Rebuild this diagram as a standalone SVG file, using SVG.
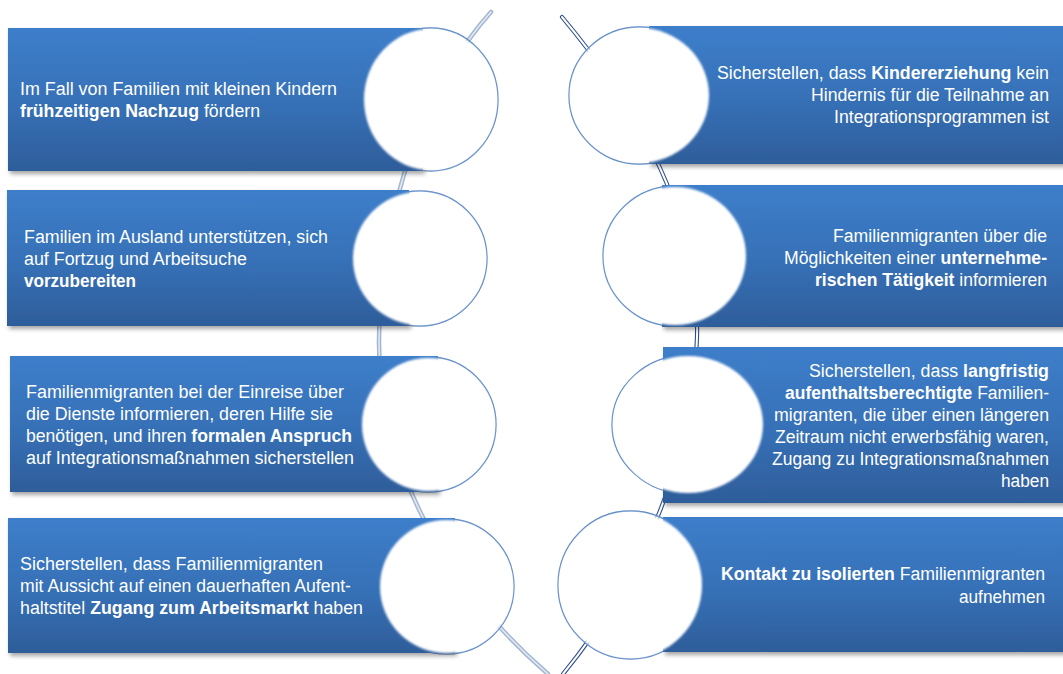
<svg xmlns="http://www.w3.org/2000/svg" width="1063" height="674" viewBox="0 0 1063 674">
<defs>
<linearGradient id="boxg" x1="0" y1="0" x2="0" y2="1">
<stop offset="0" stop-color="#3D7ECA"/>
<stop offset="0.55" stop-color="#3670B6"/>
<stop offset="1" stop-color="#2E5D9A"/>
</linearGradient>
<filter id="shadow" x="-5%" y="-10%" width="112%" height="125%">
<feDropShadow dx="2" dy="3" stdDeviation="2" flood-color="#000" flood-opacity="0.35"/>
</filter>
<filter id="soft" x="-5%" y="-5%" width="110%" height="110%">
<feGaussianBlur stdDeviation="0.8"/>
</filter>
</defs>
<style>
.box{fill:url(#boxg);filter:url(#shadow)}
.ring{fill:none;stroke:#4F7FC2;stroke-width:1.3}
.disc{fill:#fff;filter:url(#soft)}
.t{font-family:"Liberation Sans",Arial,sans-serif;font-size:18px;fill:#fff}
.b{font-weight:bold}
.arcL1{fill:none;stroke:#A3B6D1;stroke-width:4.5;stroke-linecap:round}
.arcL2{fill:none;stroke:#E2E9F2;stroke-width:1.6;stroke-linecap:round}
.arcR1{fill:none;stroke:#2F4E8C;stroke-width:4.2;stroke-linecap:round}
.arcR2{fill:none;stroke:#fff;stroke-width:2;stroke-linecap:round}
</style>
<g id="connectors">
<path class="arcL1" d="M491,12 C430,80 380,200 379,340 C378,460 440,580 548,674"/>
<path class="arcL2" d="M491,12 C430,80 380,200 379,340 C378,460 440,580 548,674"/>
<path class="arcR1" d="M562,17 C640,110 700,220 697,337 C694,460 640,580 563,674"/>
<path class="arcR2" d="M562,17 C640,110 700,220 697,337 C694,460 640,580 563,674"/>
</g>
<g id="node-l1">
<ellipse class="ring" cx="430.5" cy="99.5" rx="67.5" ry="71.5"/>
<rect class="box" x="8" y="28" width="415" height="143"/>
<ellipse class="disc" cx="430.5" cy="99.5" rx="66.5" ry="70.5"/>
<text class="t" x="20" y="95" textLength="317" lengthAdjust="spacingAndGlyphs">Im Fall von Familien mit kleinen Kindern</text>
<text class="t" x="20" y="117" textLength="240" lengthAdjust="spacingAndGlyphs"><tspan class="b">frühzeitigen Nachzug</tspan> fördern</text>
</g>
<g id="node-l2">
<ellipse class="ring" cx="419.5" cy="258.5" rx="67.5" ry="67.5"/>
<rect class="box" x="7" y="190" width="402" height="136"/>
<ellipse class="disc" cx="419.5" cy="258.5" rx="66.5" ry="66.5"/>
<text class="t" x="24" y="243" textLength="304" lengthAdjust="spacingAndGlyphs">Familien im Ausland unterstützen, sich</text>
<text class="t" x="24" y="265" textLength="223" lengthAdjust="spacingAndGlyphs">auf Fortzug und Arbeitsuche</text>
<text class="t b" x="24" y="287" textLength="112" lengthAdjust="spacingAndGlyphs">vorzubereiten</text>
</g>
<g id="node-l3">
<ellipse class="ring" cx="428.5" cy="424.5" rx="67.5" ry="67.5"/>
<rect class="box" x="10" y="356" width="428" height="136"/>
<ellipse class="disc" cx="428.5" cy="424.5" rx="66.5" ry="66.5"/>
<text class="t" x="26" y="398" textLength="318" lengthAdjust="spacingAndGlyphs">Familienmigranten bei der Einreise über</text>
<text class="t" x="26" y="420" textLength="307" lengthAdjust="spacingAndGlyphs">die Dienste informieren, deren Hilfe sie</text>
<text class="t" x="26" y="442" textLength="326" lengthAdjust="spacingAndGlyphs">benötigen, und ihren <tspan class="b">formalen Anspruch</tspan></text>
<text class="t" x="26" y="464" textLength="328" lengthAdjust="spacingAndGlyphs">auf Integrationsmaßnahmen sicherstellen</text>
</g>
<g id="node-l4">
<ellipse class="ring" cx="446.5" cy="586.5" rx="67.5" ry="67.5"/>
<rect class="box" x="8" y="518" width="447" height="135"/>
<ellipse class="disc" cx="446.5" cy="586.5" rx="66.5" ry="66.5"/>
<text class="t" x="20" y="570" textLength="303" lengthAdjust="spacingAndGlyphs">Sicherstellen, dass Familienmigranten</text>
<text class="t" x="20" y="592" textLength="331" lengthAdjust="spacingAndGlyphs">mit Aussicht auf einen dauerhaften Aufent-</text>
<text class="t" x="20" y="614" textLength="343" lengthAdjust="spacingAndGlyphs">haltstitel <tspan class="b">Zugang zum Arbeitsmarkt</tspan> haben</text>
</g>
<g id="node-r1">
<ellipse class="ring" cx="639.5" cy="95.5" rx="70.5" ry="68.5"/>
<rect class="box" x="649" y="26" width="420" height="138"/>
<ellipse class="disc" cx="639.5" cy="95.5" rx="69.5" ry="67.5"/>
<text class="t" x="717" y="79" textLength="332" lengthAdjust="spacingAndGlyphs">Sicherstellen, dass <tspan class="b">Kindererziehung</tspan> kein</text>
<text class="t" x="811" y="101" textLength="238" lengthAdjust="spacingAndGlyphs">Hindernis für die Teilnahme an</text>
<text class="t" x="834" y="123" textLength="215" lengthAdjust="spacingAndGlyphs">Integrationsprogrammen ist</text>
</g>
<g id="node-r2">
<ellipse class="ring" cx="675" cy="256" rx="72" ry="70"/>
<rect class="box" x="662" y="185" width="410" height="142"/>
<ellipse class="disc" cx="675" cy="256" rx="71" ry="69"/>
<text class="t" x="833" y="242" textLength="214" lengthAdjust="spacingAndGlyphs">Familienmigranten über die</text>
<text class="t" x="784" y="264" textLength="263" lengthAdjust="spacingAndGlyphs">Möglichkeiten einer <tspan class="b">unternehme-</tspan></text>
<text class="t" x="815" y="286" textLength="232" lengthAdjust="spacingAndGlyphs"><tspan class="b">rischen Tätigkeit</tspan> informieren</text>
</g>
<g id="node-r3">
<ellipse class="ring" cx="688" cy="424.5" rx="76" ry="69.5"/>
<rect class="box" x="663" y="347" width="410" height="156"/>
<ellipse class="disc" cx="688" cy="424.5" rx="75" ry="68.5"/>
<text class="t" x="809" y="377" textLength="240" lengthAdjust="spacingAndGlyphs">Sicherstellen, dass <tspan class="b">langfristig</tspan></text>
<text class="t" x="785" y="399" textLength="264" lengthAdjust="spacingAndGlyphs"><tspan class="b">aufenthaltsberechtigte</tspan>  Familien-</text>
<text class="t" x="774" y="421" textLength="275" lengthAdjust="spacingAndGlyphs">migranten, die über einen längeren</text>
<text class="t" x="775" y="443" textLength="274" lengthAdjust="spacingAndGlyphs">Zeitraum nicht erwerbsfähig waren,</text>
<text class="t" x="772" y="465" textLength="277" lengthAdjust="spacingAndGlyphs">Zugang zu Integrationsmaßnahmen</text>
<text class="t" x="1001" y="487" textLength="48" lengthAdjust="spacingAndGlyphs">haben</text>
</g>
<g id="node-r4">
<ellipse class="ring" cx="630.5" cy="585" rx="72.5" ry="74"/>
<rect class="box" x="663" y="517" width="410" height="135"/>
<ellipse class="disc" cx="630.5" cy="585" rx="71.5" ry="73"/>
<text class="t" x="721" y="580" textLength="324" lengthAdjust="spacingAndGlyphs"><tspan class="b">Kontakt zu isolierten</tspan> Familienmigranten</text>
<text class="t" x="959" y="603" textLength="86" lengthAdjust="spacingAndGlyphs">aufnehmen</text>
</g>
</svg>
